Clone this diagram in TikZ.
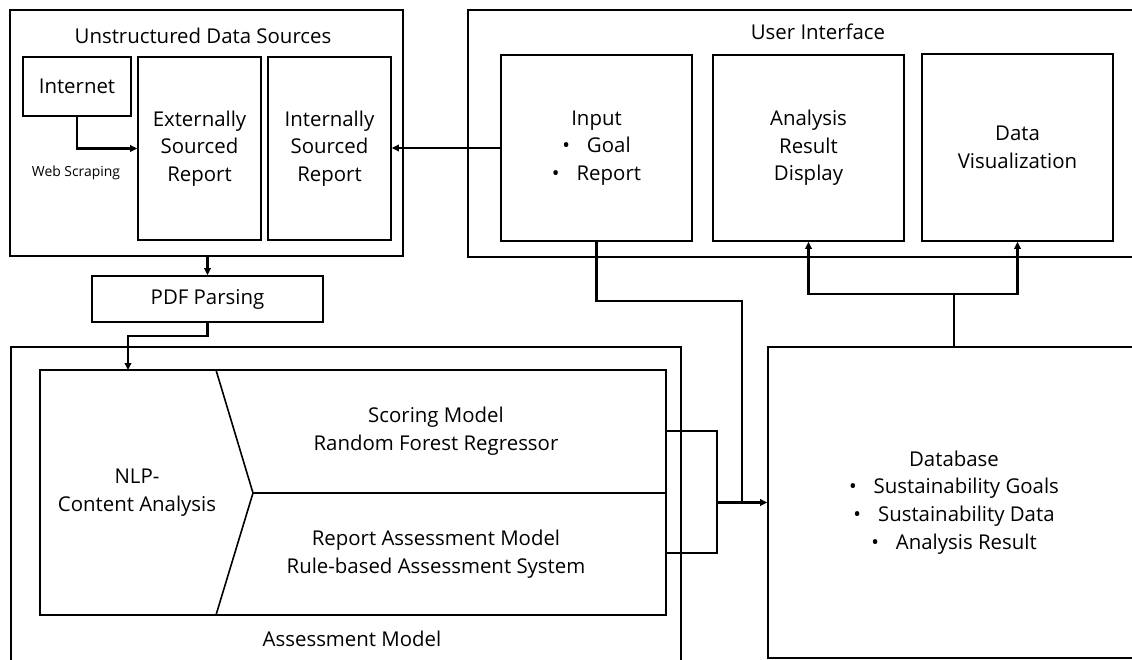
\documentclass[tikz,border=0pt]{standalone}
\usepackage{fontspec}
\setmainfont{Open Sans}
\usetikzlibrary{arrows.meta,calc}

\newcommand{\bodyfont}{\fontsize{20.4}{27.7}\selectfont}
\newcommand{\itembullet}{\textbullet\hspace{17pt}}

\begin{document}
\begin{tikzpicture}[x=1pt,y=-1pt,
  box/.style={draw, line width=1.6pt, inner sep=0pt, align=center, font=\bodyfont},
  txt/.style={inner sep=0pt, align=center, font=\bodyfont},
  shp/.style={draw, line width=1.6pt, line join=miter},
  wire/.style={draw, line width=2.2pt},
  conn/.style={draw, line width=2.2pt, -{Triangle[length=7pt,width=6.5pt]}}
]
\clip (0,0) rectangle (1132,660);
\fill[white] (0,0) rectangle (1132,660);

% ---------- Unstructured data sources ----------
\node[box, minimum width=393pt, minimum height=246pt] (uds) at (206.5,133) {};
\node[txt] (udstitle) at (203,36) {Unstructured Data Sources};
\node[box, minimum width=108pt, minimum height=59pt] (internet) at (77,86.5) {Internet};
\node[box, minimum width=123pt, minimum height=183pt] (ext) at (199.5,148.5) {Externally\\Sourced\\Report};
\node[box, minimum width=123pt, minimum height=183pt] (int) at (329.5,148.5) {Internally\\Sourced\\Report};
\node[txt, font=\fontsize{13.9}{16}\selectfont] (webscrap) at (76,173) {Web Scraping};

% ---------- User interface ----------
\node[box, minimum width=700pt, minimum height=247pt] (ui) at (818,133.5) {};
\node[txt] (uititle) at (818,32) {User Interface};
\node[box, minimum width=191pt, minimum height=186pt] (input) at (596.5,148) {Input\\\itembullet Goal\\\itembullet Report};
\node[box, minimum width=191pt, minimum height=186pt] (analysis) at (808.5,148) {Analysis\\Result\\Display};
\node[box, minimum width=191pt, minimum height=187pt] (dataviz) at (1017.5,147.5) {Data\\Visualization};

% ---------- PDF parsing ----------
\node[box, minimum width=231pt, minimum height=46pt] (pdf) at (207.5,299) {PDF Parsing};

% ---------- Assessment model ----------
\node[box, minimum width=670pt, minimum height=373pt] (asm) at (346,533.5) {};
\node[txt] (asmtitle) at (352,639) {Assessment Model};
\draw[shp] (40,370) -- (216,370) -- (253,493) -- (216,615) -- (40,615) -- cycle;
\draw[shp] (216,370) -- (666,370) -- (666,493) -- (253,493);
\draw[shp] (253,493) -- (666,493) -- (666,615) -- (216,615);
\node[txt] (nlp) at (137,492.5) {NLP-\\Content Analysis};
\node[txt] (score) at (436,431) {Scoring Model\\Random Forest Regressor};
\node[txt] (report) at (436,554) {Report Assessment Model\\Rule-based Assessment System};
\coordinate (nlpin) at (128,370);
\coordinate (scoreout) at (666,431);
\coordinate (reportout) at (666,553);
\coordinate (brtop) at (717,431);
\coordinate (brbot) at (717,553);
\coordinate (merge) at (742,502.5);

% ---------- Database ----------
\node[box, minimum width=372pt, minimum height=311pt] (db) at (954,502.5) {Database\\\itembullet Sustainability Goals\\\itembullet Sustainability Data\\\itembullet Analysis Result};

% ---------- Connectors ----------
\draw[conn] (internet.south) |- (ext.west);
\draw[conn] (input.west) -- (input.west -| int.east);
\draw[conn] (uds.south -| pdf.north) -- (pdf.north);
\draw[conn] (pdf.south) -- ++(0,13) -| (nlpin);
\draw[wire] (scoreout) -- (brtop) -- (brbot) -- (reportout);
\draw[conn] (brtop |- db.west) -- (db.west);
\draw[wire] (input.south) -- ++(0,59) -| (merge);
\draw[wire] (db.north) -- ++(0,-52) coordinate (dbtop);
\draw[conn] (dbtop) -| (analysis.south);
\draw[conn] (dbtop) -| (dataviz.south);
\end{tikzpicture}
\end{document}
